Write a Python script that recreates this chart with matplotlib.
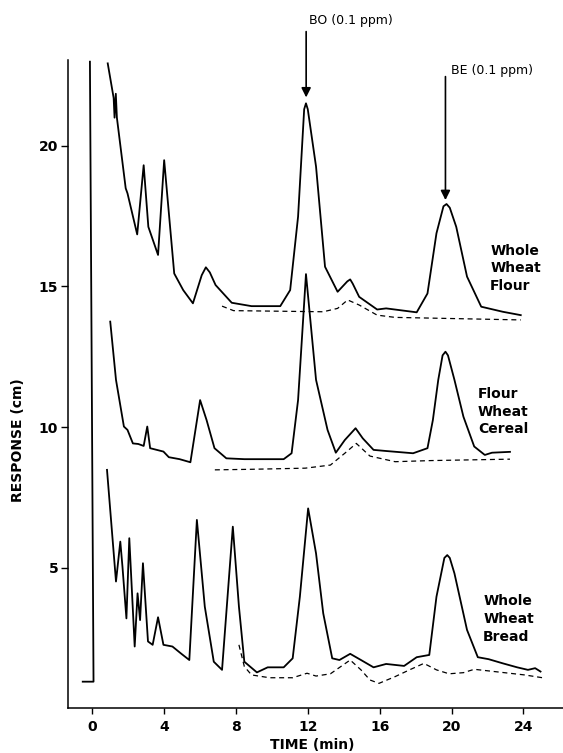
from matplotlib import pyplot as plt

# traces (time in min, response in cm)
flour_t = [0.87, 1.2, 1.25, 1.32, 1.38, 1.87, 1.97, 2.51, 2.87, 3.13, 3.67, 4.01, 4.57, 5.07, 5.61,
           6.1, 6.33, 6.55, 6.87, 7.77, 8.87, 10.47, 11.02, 11.46, 11.8, 11.9, 12.0, 12.46, 12.96,
           13.66, 14.2, 14.36, 14.5, 14.86, 15.86, 16.36, 18.06, 18.66, 19.16, 19.55, 19.72, 19.9,
           20.26, 20.86, 21.65, 22.85, 23.85]
flour_r = [22.93, 21.7, 21.0, 21.85, 21.0, 18.49, 18.31, 16.85, 19.31, 17.12, 16.12, 19.49, 15.46,
           14.87, 14.40, 15.4, 15.68, 15.5, 15.05, 14.42, 14.3, 14.3, 14.87, 17.48, 21.3, 21.51,
           21.3, 19.26, 15.7, 14.81, 15.18, 15.25, 15.1, 14.63, 14.18, 14.22, 14.08, 14.75, 16.89,
           17.85, 17.93, 17.8, 17.12, 15.35, 14.28, 14.1, 13.98]
flour_base_t = [7.23, 7.87, 12.86, 13.66, 14.22, 14.86, 15.86, 16.86, 23.85]
flour_base_r = [14.3, 14.14, 14.1, 14.22, 14.52, 14.34, 13.98, 13.9, 13.81]

cereal_t = [1.01, 1.33, 1.77, 1.97, 2.27, 2.57, 2.87, 3.07, 3.23, 3.97, 4.27, 4.87, 5.47, 6.01,
            6.37, 6.81, 7.47, 8.47, 10.66, 11.1, 11.46, 11.9, 12.46, 13.1, 13.56, 14.06, 14.66,
            15.06, 15.66, 16.36, 17.86, 18.66, 18.96, 19.26, 19.5, 19.66, 19.8, 20.16, 20.66,
            21.26, 21.85, 22.25, 23.25]
cereal_r = [13.75, 11.68, 10.02, 9.9, 9.42, 9.4, 9.33, 10.02, 9.25, 9.13, 8.93, 8.86, 8.75, 10.96,
            10.25, 9.25, 8.89, 8.86, 8.86, 9.07, 10.96, 15.44, 11.68, 9.9, 9.09, 9.54, 9.96, 9.6,
            9.19, 9.15, 9.07, 9.25, 10.25, 11.68, 12.55, 12.68, 12.55, 11.68, 10.37, 9.31, 9.01,
            9.09, 9.12]
cereal_base_t = [6.83, 8.87, 11.86, 13.26, 14.06, 14.7, 15.46, 16.86, 18.86, 23.25]
cereal_base_r = [8.48, 8.5, 8.54, 8.65, 9.07, 9.42, 8.97, 8.77, 8.81, 8.86]

bread_t = [0.83, 1.33, 1.57, 1.69, 1.91, 2.07, 2.37, 2.53, 2.67, 2.83, 3.11, 3.37, 3.67, 3.97,
           4.47, 4.97, 5.41, 5.83, 6.27, 6.77, 7.23, 7.83, 8.17, 8.47, 9.17, 9.77, 10.66, 11.16,
           11.56, 12.02, 12.46, 12.86, 13.36, 13.76, 14.36, 14.96, 15.66, 16.36, 17.36, 18.06,
           18.76, 19.16, 19.6, 19.76, 19.9, 20.16, 20.86, 21.46, 22.06, 22.86, 23.65, 24.25,
           24.65, 24.95]
bread_r = [8.48, 4.51, 5.93, 5.04, 3.2, 6.05, 2.2, 4.09, 3.14, 5.16, 2.38, 2.26, 3.24, 2.26, 2.2,
           1.94, 1.72, 6.7, 3.62, 1.66, 1.37, 6.46, 3.62, 1.66, 1.28, 1.46, 1.46, 1.78, 3.97, 7.11,
           5.51, 3.38, 1.78, 1.72, 1.94, 1.72, 1.46, 1.58, 1.51, 1.82, 1.9, 3.97, 5.35, 5.45, 5.35,
           4.8, 2.79, 1.82, 1.75, 1.6, 1.46, 1.37, 1.43, 1.31]
bread_base_t = [8.17, 8.47, 8.87, 9.87, 11.16, 11.96, 12.46, 13.26, 14.36, 14.96, 15.46, 15.96,
                16.86, 17.66, 18.46, 19.16, 19.86, 20.66, 21.26, 24.06, 25.06]
bread_base_r = [2.26, 1.49, 1.19, 1.09, 1.09, 1.25, 1.15, 1.23, 1.72, 1.37, 1.01, 0.89, 1.13,
                1.37, 1.6, 1.37, 1.23, 1.27, 1.39, 1.19, 1.09]

# injection mark
inject_t = [-0.52, 0.08, -0.12]
inject_r = [0.95, 0.95, 22.99]

x_ticks = [0, 4, 8, 12, 16, 20, 24]
y_ticks = [5, 10, 15, 20]

plt.rcParams['font.family'] = ['DejaVu Sans']
fig = plt.figure(figsize=(5.63, 7.53), dpi=100)
ax = fig.add_axes([68 / 563, 1 - 708.4 / 753, 1 - 68 / 563, (708.4 - 60) / 753])

solid = dict(color='black', lw=1.3, solid_joinstyle='round')
dashed = dict(color='black', lw=0.9, linestyle=(0, (4, 3)))

ax.plot(flour_t, flour_r, **solid)
ax.plot(flour_base_t, flour_base_r, **dashed)
ax.plot(cereal_t, cereal_r, **solid)
ax.plot(cereal_base_t, cereal_base_r, **dashed)
ax.plot(bread_t, bread_r, **solid)
ax.plot(bread_base_t, bread_base_r, **dashed)
ax.plot(inject_t, inject_r, **solid)

ax.set_xlim(-1.34, 26.2)
ax.set_ylim(0, 23.05)
ax.set_xticks(x_ticks)
ax.set_yticks(y_ticks)
ax.tick_params(axis='x', direction='out', length=4, width=1, pad=4, labelsize=10)
ax.tick_params(axis='y', direction='out', length=5, width=1, pad=2, labelsize=10)
for lab in ax.get_xticklabels() + ax.get_yticklabels():
    lab.set_fontweight('bold')
for s in ['top', 'right']:
    ax.spines[s].set_visible(False)
for s in ['left', 'bottom']:
    ax.spines[s].set_linewidth(1.1)

# arrows for the spiked standards
arrow = dict(arrowstyle='-|>', color='black', lw=1.2, mutation_scale=14, shrinkA=0, shrinkB=0)
ax.annotate('', xy=(11.91, 21.72), xytext=(11.91, 24.06), arrowprops=arrow, annotation_clip=False)
ax.annotate('', xy=(19.66, 18.07), xytext=(19.66, 22.46), arrowprops=arrow, annotation_clip=False)
ax.text(14.41, 24.45, 'BO (0.1 ppm)', ha='center', va='center', fontsize=9, clip_on=False)
ax.text(22.25, 22.69, 'BE (0.1 ppm)', ha='center', va='center', fontsize=9, clip_on=False)

lab_kw = dict(ha='left', va='center', fontsize=10, fontweight='bold', linespacing=1.35)
ax.text(22.15, 15.64, 'Whole\nWheat\nFlour', **lab_kw)
ax.text(21.46, 10.55, 'Flour\nWheat\nCereal', **lab_kw)
ax.text(21.76, 3.17, 'Whole\nWheat\nBread', **lab_kw)

fig.text(18 / 563, 1 - 440 / 753, 'RESPONSE (cm)', rotation=90, ha='center', va='center',
         fontsize=10, fontweight='bold')
fig.text(312 / 563, 1 - 745 / 753, 'TIME (min)', ha='center', va='center',
         fontsize=10, fontweight='bold')

fig.savefig('out.png', dpi=100)
